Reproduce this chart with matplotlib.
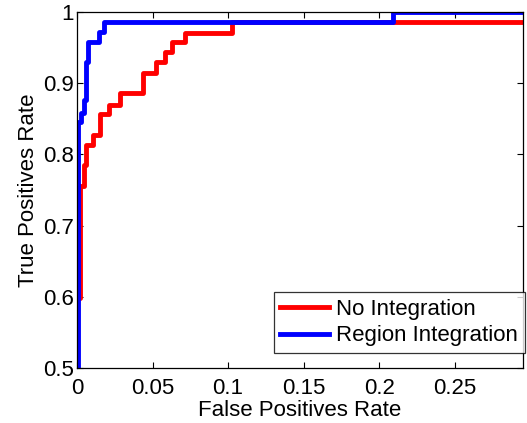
import matplotlib
matplotlib.use("Agg")
from matplotlib import pyplot as plt

# ROC step vertices (drawn with steps-post)
fpr_none = [0, 0, 0.0022, 0.0044, 0.006, 0.0104, 0.0154, 0.021, 0.0284, 0.0439,
            0.052, 0.0582, 0.063, 0.0714, 0.1023, 0.3]
tpr_none = [0, 0.598, 0.755, 0.785, 0.813, 0.827, 0.857, 0.869, 0.886, 0.914,
            0.930, 0.943, 0.957, 0.971, 0.986, 0.986]

fpr_region = [0.0005, 0.0005, 0.0028, 0.0045, 0.006, 0.007, 0.0145, 0.0177, 0.209, 0.3]
tpr_region = [0, 0.845, 0.858, 0.876, 0.930, 0.958, 0.972, 0.986, 1.0, 1.0]

xticks = [0, 0.05, 0.1, 0.15, 0.2, 0.25]
xtick_labels = ["0", "0.05", "0.1", "0.15", "0.2", "0.25"]
yticks = [0.5, 0.6, 0.7, 0.8, 0.9, 1.0]
ytick_labels = ["0.5", "0.6", "0.7", "0.8", "0.9", "1"]

plt.rcParams['font.family'] = ['Liberation Sans', 'DejaVu Sans']

fig = plt.figure(figsize=(5.27, 4.23), dpi=100)
ax = fig.add_axes([0.146, 0.130, 0.846, 0.842])

ax.plot(fpr_none, tpr_none, color='#ff0000', lw=3.5, drawstyle='steps-post',
        label='No Integration')
ax.plot(fpr_region, tpr_region, color='#0000ff', lw=3.5, drawstyle='steps-post',
        label='Region Integration')

ax.set_xlim(0, 0.295)
ax.set_ylim(0.5, 1.0)
ax.set_xticks(xticks)
ax.set_xticklabels(xtick_labels)
ax.set_yticks(yticks)
ax.set_yticklabels(ytick_labels)
ax.tick_params(direction='in', length=4, width=0.8, labelsize=16,
               top=True, right=True)
ax.tick_params(axis='x', pad=7)
ax.tick_params(axis='y', pad=2)
for s in ax.spines.values():
    s.set_linewidth(0.9)

ax.set_xlabel("False Positives Rate", fontsize=16, labelpad=1)
ax.set_ylabel("True Positives Rate", fontsize=16, labelpad=3)

leg = ax.legend(loc='lower right', bbox_to_anchor=(1.004, 0.042), fontsize=16,
                frameon=True, fancybox=False, edgecolor='black',
                handlelength=2.2, borderpad=0.3, labelspacing=0.25,
                handletextpad=0.3, borderaxespad=0)
leg.get_frame().set_linewidth(0.9)

fig.savefig("out.png", dpi=100)
